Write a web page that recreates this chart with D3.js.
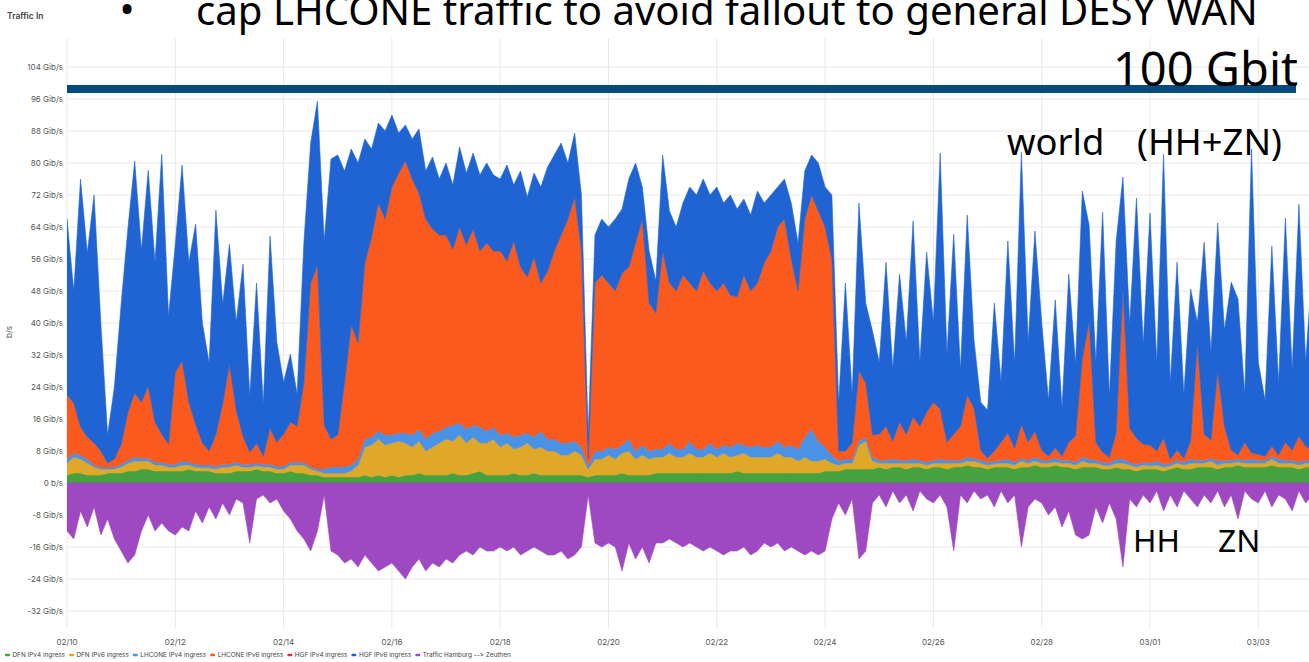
<!DOCTYPE html>
<html><head><meta charset="utf-8">
<script src="https://cdn.jsdelivr.net/npm/d3@7"></script>
<style>
body{margin:0;background:#fff;}
svg{display:block;}
text{font-feature-settings:"liga" 0,"calt" 0;font-variant-ligatures:none;}
</style>
</head><body>
<svg id="chart" width="1309" height="662"></svg>
<script>
// ---------- data (3-hour samples starting 2024-02-10 00:00 UTC) ----------
const startTime = "2024-02-10T00:00:00Z";
const stepHours = 3;

const seriesKeys = ["dfnV4","dfnV6","lhcV4","lhcV6","hgfV4","hgfV6"];
const seriesNames = ["DFN IPv4 ingress","DFN IPv6 ingress","LHCONE IPv4 ingress","LHCONE IPv6 ingress","HGF IPv4 ingress","HGF IPv6 ingress","Traffic Hamburg --> Zeuthen"];
const seriesColors = ["#45a23f","#e0a828","#4a92e6","#fb5a1f","#e02f44","#1f64d2","#9e49c1"];

const dfnV4 = [
2,2.5,2.5,2,2,2,2.5,2.5,
2.5,3,3,3.5,3.5,3,3,3,
3,3,3.5,3,3,3,2.5,2.5,
2.5,3,3,3,3.5,3,3,2.5,
2.5,3,2.5,2.5,2,2,1.5,1.5,
1.5,1.5,1.5,1.5,2,1.5,2,1.5,
2,1.5,2,2,2.5,2,2,2,
2,2.5,2,2,2.5,3,2,2,
2,2,2.5,2,2,2.5,2,2,
2,2,2,2,2,1.5,2,2,
2,2,2.5,2,2,2,2,2.5,
2.5,2.5,2.5,2.5,2.5,2.5,2.5,2.5,
2.5,2.5,2.5,3,2.5,2.5,2.5,2.5,
2.5,2.5,2.5,2.5,2.5,2.5,2.5,2.5,
3,3,3,3.5,3.5,3.5,3.5,3.5,
4,3.5,4,4,3.5,4,4,3.5,
4,4,3.5,4,4,4.5,4,4,
3.5,4,4,4,3.5,4,4,4.5,
4,4,4.5,4,4,3.5,4,4,
4,3.5,3.5,4,3.5,3.5,3,3.5,
3.5,3.5,3,3.5,4,3.5,3.5,4,
4,4,3.5,4,4,4.5,4,4,
4,4,4.5,4,4,4,3.5,4,4];

const dfnV6 = [
3,4,3.5,3,2,1.5,1,1,
1.5,2,2.5,2,2,1.5,1.5,1,
1,1.5,1,1,0.8,0.8,1,1.5,
1.5,1.5,1,1,0.8,1,1,1,
1,1.5,2,2,1.5,1,1,1,
1,1,1.5,3,7,8,9,8,
8,9,8,7,8,6,7,8,
9,8,10,8,9,7,8,9,
7,8,6,7,8,6,7,6,
6,5,5,6,5,2,4,4,
5,4,5,6,4,5,4,4,
4,5,4,4,5,4,4,5,
4,5,4,4,5,4,4,4,
4,5,4,4,3,4,3,3,
3,2,1.5,1.5,1.5,6,7,2,
1,1.5,1,1,1.5,1,1,1,
1,1,1.5,1,1,1,1.5,1,
1,0.8,1,1,1,1.5,1,1,
1,1,0.8,1,1,1,1.5,1,
1,1,0.8,1,1.5,1,1,1,
0.8,1,1,0.8,1,1,1.5,1,
1,1.5,1,1,1,0.8,1,1,
1,1,1.5,1,1,1,1,1,1];

const lhcV4 = [
1,1,1,1,0.5,0.5,0.5,0.5,
0.7,0.7,1,0.7,0.7,0.7,0.7,0.7,
0.7,1,0.7,0.7,0.7,0.7,0.7,0.7,
0.7,0.7,0.7,0.7,0.7,0.7,0.7,0.7,
0.7,0.7,0.7,0.7,0.5,0.5,1,1.5,
1.5,1.5,1.5,1.5,2,2,2,2.5,
2,2,2.5,3,3,3,3.5,3,
3,4,3,3.5,3,4,3,3,
3,2.5,3,3,2.5,3,4,3,
3,3,3,2.5,2,1,2,2,
2,2.5,2,3,2,2.5,2,2,
2,2.5,2,2,3,2,2,2.5,
2,2,2.5,3,2,2.5,3,2.5,
2.5,3,2.5,3,3,5,8,5,
3,2,1,1,1,1,1,1,
0.7,0.7,1,0.7,0.7,1,0.7,0.7,
0.7,1,0.7,0.7,0.7,1,0.7,0.7,
0.7,0.7,0.7,1,0.7,0.7,0.7,1,
0.7,0.7,1,0.7,0.7,0.7,1,1,
0.7,0.7,0.7,1,1,0.7,0.7,0.7,
0.7,1,0.7,0.7,0.7,0.7,1,0.7,
0.7,0.7,1,0.7,0.7,0.7,0.7,1,
0.7,0.7,0.7,1,0.7,0.7,0.7,0.7,0.7];

const lhcV6 = [
16,12.5,7,5.5,5.5,4,1,2,
5,12,16,14,18,10,7,5,
23,25,15,10,5.5,3.5,8,15,
25,13,7,3,5,2,9,6,
8,10,9,20,46,51,11,7,
8,21,35,29,44,50,57,54,
62,65,68,64,59,55,51,49,
48,44,49,46,49,44,47,44,
46,43,49,42,39,45,37,42,
47,52,56,61,49,1.5,42,44,
41,39.5,43,43,52,56.5,37,34,
49.5,40,39.5,43.5,39.5,39.5,44.5,40,
39.5,40.5,38,36.5,42.5,39,40.5,46,
49,53.5,57,46.5,39.5,54.5,58.5,57.5,
55,49,2.5,2,4,17.5,13.5,5.5,
6.5,8.5,4.5,9.5,6.5,10.5,8.5,12.5,
14.5,12.5,4.5,6.5,8.5,15.5,12.5,2.5,
1,2.5,4.5,6.5,3.5,8.5,4.5,6.5,
2.5,1,2.5,1,4.5,6.5,24.5,34.5,
4.5,2.5,1.5,6.5,42.5,8.5,6.5,4.5,
4.5,2.5,6.5,1,2.5,1,4.5,29.5,
6.5,4.5,22.5,8.5,2.5,1,4.5,1.5,
1.5,1,2.5,1,4.5,2.5,6.5,3.5,2.5];

const hgfV4 = [
0,0,0,0,0,0,0,0, 0,0,0,0,0,0,0,0, 0,0,0,0,0,0,0,0, 0,0,0,0,0,0,0,0,
0,0,0,0,0,0,0,0, 0,0,0,0,0,0,0,0, 0,0,0,0,0,0,0,0, 0,0,0,0,0,0,0,0,
0,0,0,0,0,0,0,0, 0,0,0,0,0,0,0,0, 0,0,0,0,0,0,0,0, 0,0,0,0,0,0,0,0,
0,0,0,0,0,0,0,0, 0,0,0,0,0,0,0,0, 0,0,0,0,0,0,0,0, 0,0,0,0,0,0,0,0,
0,0,0,0,0,0,0,0, 0,0,0,0,0,0,0,0, 0,0,0,0,0,0,0,0, 0,0,0,0,0,0,0,0,
0,0,0,0,0,0,0,0, 0,0,0,0,0,0,0,0, 0,0,0,0,0,0,0,0,0];

const hgfV6 = [
44,28,62,46,62,32,7,18,
35,46,58,38,54,40,70,32,
32,49,35,50,30,22,56,25,
30,22,43,14,40,13,48,25,
13,17,8,35,35,41,46,70,
70,53,44,45,31,22,20,22,
18,10,9,10,16,12,18,14,
18,16,20,18,19,19,20,19,
18,24,14,24,20,21,24,26,
24,23,14,16,14,6,12,14,
14,18,16,22,20,8,13,8,
24,18,16,18,24,24,23,22,
26,20,25,22,19,19,23,15,
14,10,10,14,12,12,10,12,
10,16,12,42,12,42,20,26,
18,41,18,37,23,49,16,40,
20,64,22,50,14,45,17,12,
12,37,15,48,21,68,25,50,
32,14,37,12,42,18,42,24,
20,60,15,48,28,26,60,25,
58,22,71,19,47,16,38,5,
48,22,37,24,42,39,12,76,
23,14,50,18,56,20,58,21,47];

const hhToZn = [
-12,-14,-7,-11,-6,-13,-9,-14,
-17,-20,-18,-12,-8,-12,-10,-12,
-13,-11,-12,-7,-10,-6,-9,-5,
-8,-4,-5,-15,-4,-3,-5,-4,
-7,-9,-12,-14,-17,-12,-3,-17,
-18,-20,-19,-21,-18,-20,-22,-21,
-20,-22,-24,-21,-19,-22,-20,-21,
-19,-20,-18,-17,-18,-16,-17,-17,
-16,-17,-16,-18,-17,-16,-17,-18,
-18,-17,-19,-18,-16,-3,-15,-16,
-15,-16,-22,-15,-19,-16,-20,-15,
-15,-14,-15,-16,-15,-16,-17,-16,
-17,-18,-17,-17,-16,-18,-17,-15,
-16,-15,-17,-16,-17,-18,-17,-18,
-17,-9,-5,-8,-4,-19,-17,-5,
-3,-6,-2,-5,-3,-7,-2,-4,
-5,-3,-6,-17,-3,-5,-2,-4,
-3,-6,-2,-5,-3,-16,-6,-4,
-5,-8,-6,-11,-7,-13,-14,-13,
-6,-10,-5,-9,-21,-4,-6,-3,
-5,-2,-7,-3,-6,-2,-4,-6,
-3,-5,-2,-6,-3,-9,-2,-4,
-5,-2,-6,-3,-4,-7,-2,-5,-3];

const yTickValues = [-32,-24,-16,-8,0,8,16,24,32,40,48,56,64,72,80,88,96,104];
const xTickLabels = ["02/10","02/12","02/14","02/16","02/18","02/20","02/22","02/24","02/26","02/28","03/01","03/03"];
const capLevel = 98.5;   // annotation bar (Gib/s)

// ---------- layout ----------
const W = 1309, H = 662;
const plot = {left: 67, right: 1312.45, top: 38, bottom: 628};
const svg = d3.select("#chart");
svg.append("rect").attr("width", W).attr("height", H).attr("fill", "#fff");

const t0 = new Date(startTime);
const parseTick = d3.utcParse("%Y/%m/%d");
const tickDates = xTickLabels.map(l => parseTick("2024/" + l));
const tEnd = d3.utcHour.offset(t0, 23 * 24);

const x = d3.scaleUtc().domain([t0, tEnd]).range([plot.left, plot.right]);
const y = d3.scaleLinear().domain([-36.25, 111.25]).range([plot.bottom, plot.top]);

const series = {dfnV4, dfnV6, lhcV4, lhcV6, hgfV4, hgfV6};
const rows = hgfV6.map((_, i) => {
  const r = {time: d3.utcHour.offset(t0, i * stepHours), hh: hhToZn[i]};
  seriesKeys.forEach(k => r[k] = series[k][i]);
  return r;
});

// grid
const grid = svg.append("g");
grid.selectAll("line.h").data(yTickValues).join("line")
  .attr("x1", plot.left).attr("x2", W)
  .attr("y1", d => y(d)).attr("y2", d => y(d))
  .attr("stroke", "#e9e9e9").attr("stroke-width", 1);
grid.selectAll("line.v").data(tickDates).join("line")
  .attr("x1", d => x(d)).attr("x2", d => x(d))
  .attr("y1", plot.top).attr("y2", plot.bottom)
  .attr("stroke", "#e9e9e9").attr("stroke-width", 1);

svg.append("clipPath").attr("id", "clip").append("rect")
  .attr("x", plot.left).attr("y", plot.top)
  .attr("width", W - plot.left).attr("height", plot.bottom - plot.top);

const g = svg.append("g").attr("clip-path", "url(#clip)");

const stack = d3.stack().keys(seriesKeys);
const stacked = stack(rows);
const area = d3.area().x(d => x(d.data.time)).y0(d => y(d[0])).y1(d => y(d[1]));

g.selectAll("path.s").data(stacked).join("path")
  .attr("d", area)
  .attr("fill", (d, i) => seriesColors[i])
  .attr("stroke", (d, i) => d.key === "hgfV4" ? "none" : seriesColors[i])
  .attr("stroke-width", 0.6)
  .attr("stroke-linejoin", "round");

const negArea = d3.area().x(d => x(d.time)).y0(y(0)).y1(d => y(d.hh));
g.append("path").datum(rows).attr("d", negArea)
  .attr("fill", seriesColors[6]).attr("stroke", seriesColors[6]).attr("stroke-width", 0.6);

// axes labels
const fontUI = "Inter, 'Noto Sans', sans-serif";
const axG = svg.append("g").attr("font-family", fontUI).attr("font-size", 8).attr("fill", "#555");
axG.selectAll("text.y").data(yTickValues).join("text")
  .attr("x", 63).attr("y", d => y(d)).attr("dy", "0.35em").attr("text-anchor", "end")
  .text(d => d === 0 ? "0 b/s" : d + " Gib/s");
axG.selectAll("text.x").data(tickDates).join("text")
  .attr("x", d => x(d)).attr("y", 642).attr("dy", "0.35em").attr("text-anchor", "middle")
  .text(d => d3.utcFormat("%m/%d")(d));
axG.append("text").attr("transform", "translate(12,332) rotate(-90)")
  .attr("text-anchor", "middle").text("b/s");

svg.append("text").attr("x", 7).attr("y", 19).attr("font-family", fontUI)
  .attr("font-size", 8.5).attr("font-weight", 600).attr("fill", "#444").text("Traffic In");

// legend: fit the row between x=5 and x=512
const leg = svg.append("g").attr("font-family", fontUI).attr("font-size", 7).attr("fill", "#444");
const legTexts = seriesNames.map(n => leg.append("text").attr("y", 655).attr("dy", "0.35em").text(n));
const natural = d3.sum(legTexts, t => t.node().getComputedTextLength());
const swW = 5, swGap = 2.5, itemGap = 4;
const fixed = seriesNames.length * (swW + swGap) + (seriesNames.length - 1) * itemGap;
const legSize = 7 * (507 - fixed) / natural;
leg.attr("font-size", legSize);
let lx = 5;
legTexts.forEach((t, i) => {
  leg.append("rect").attr("x", lx).attr("y", 653.8).attr("width", swW).attr("height", 2.4)
    .attr("rx", 1).attr("fill", seriesColors[i]);
  t.attr("x", lx + swW + swGap);
  lx += swW + swGap + t.node().getComputedTextLength() + itemGap;
});

// annotations
const annoFont = "'Noto Sans', 'Open Sans', sans-serif";
function fitText(txt, x0, base, width, size) {
  const t = svg.append("text").attr("x", x0).attr("y", base).attr("font-family", annoFont)
    .attr("font-size", size).attr("fill", "#000").text(txt);
  const w = t.node().getComputedTextLength();
  t.attr("font-size", size * width / w);
  return size * width / w;
}
svg.append("line").attr("x1", plot.left).attr("x2", 1296)
  .attr("y1", y(capLevel)).attr("y2", y(capLevel))
  .attr("stroke", "#034b7e").attr("stroke-width", 8);
const s1 = fitText("cap LHCONE traffic to avoid fallout to general DESY WAN", 196, 25, 1062, 35);
svg.append("text").attr("x", 127).attr("y", 24).attr("text-anchor", "middle")
  .attr("font-family", annoFont).attr("font-size", s1).text("•");
fitText("100 Gbit", 1113, 86, 185, 44);
const s2 = fitText("(HH+ZN)", 1137, 155, 145, 33);
svg.append("text").attr("x", 1007).attr("y", 155).attr("font-family", annoFont)
  .attr("font-size", s2).text("world");
const s3 = fitText("HH", 1133, 552, 47, 34);
svg.append("text").attr("x", 1218).attr("y", 552).attr("font-family", annoFont)
  .attr("font-size", s3).text("ZN");
</script>
</body></html>
